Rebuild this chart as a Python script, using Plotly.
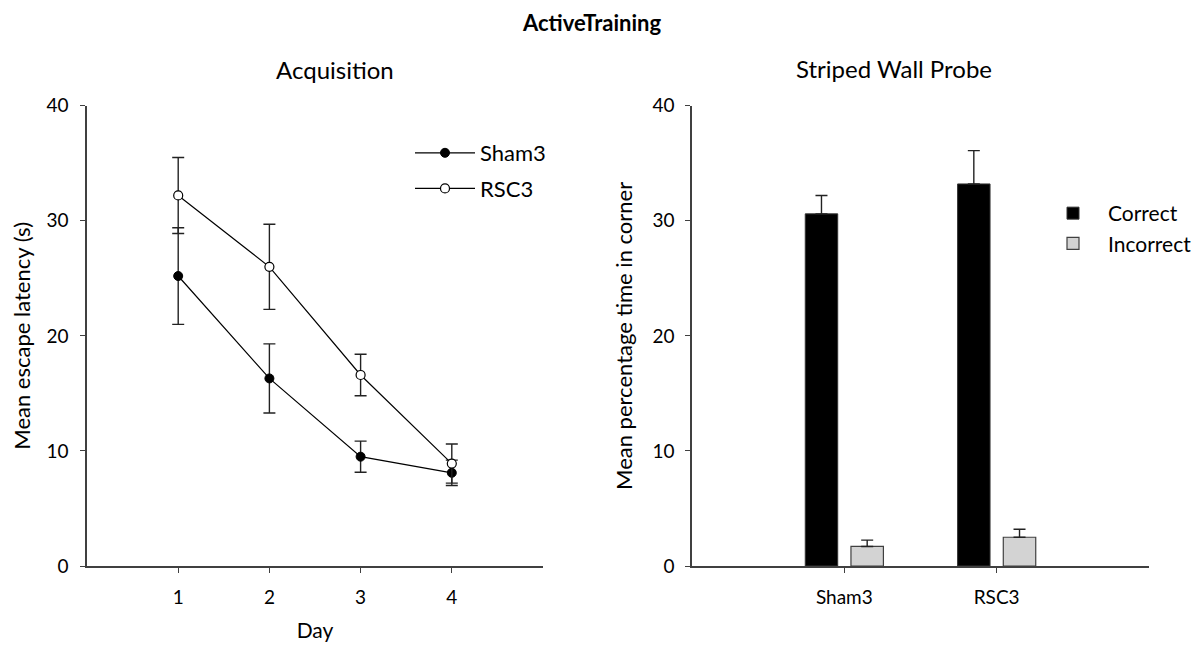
import plotly.graph_objects as go

# ---- data ----
days = [1, 2, 3, 4]
sham3_latency = [25.2, 16.3, 9.5, 8.1]
sham3_err = [4.2, 3.0, 1.35, 1.1]
rsc3_latency = [32.2, 26.0, 16.6, 8.9]
rsc3_err = [3.3, 3.7, 1.8, 1.7]

groups = ["Sham3", "RSC3"]
correct = [30.6, 33.2]
correct_err = [1.6, 2.9]
incorrect = [1.7, 2.5]
incorrect_err = [0.55, 0.7]

y_ticks = [0, 10, 20, 30, 40]

FONT = "Lato, 'Open Sans', sans-serif"
AX = "#404040"

# page body adds an 8px margin; size the figure so it fits the 1200x646 window
W, H, OFF = 1192, 638, 8


def px(p):
    return (p - OFF) / W


def py(p):
    return 1 - (p - OFF) / H


fig = go.Figure()

fig.add_trace(go.Scatter(
    x=days, y=sham3_latency, mode="lines+markers", name="Sham3",
    line=dict(color="black", width=1.2),
    marker=dict(symbol="circle", size=9, color="black", line=dict(color="black", width=1)),
    error_y=dict(type="data", array=sham3_err, color="#222222", thickness=1.4, width=6),
    xaxis="x", yaxis="y", legend="legend", legendgroup="a",
))
fig.add_trace(go.Scatter(
    x=days, y=rsc3_latency, mode="lines+markers", name="RSC3",
    line=dict(color="black", width=1.2),
    marker=dict(symbol="circle", size=9, color="white", line=dict(color="black", width=1.2)),
    error_y=dict(type="data", array=rsc3_err, color="#222222", thickness=1.4, width=6),
    xaxis="x", yaxis="y", legend="legend", legendgroup="b",
))

fig.add_trace(go.Bar(
    x=groups, y=correct, name="Correct",
    marker=dict(color="black", line=dict(color="#333333", width=1)),
    error_y=dict(type="data", array=correct_err, symmetric=False, arrayminus=[0, 0],
                 color="#222222", thickness=1.4, width=6),
    xaxis="x2", yaxis="y2", legend="legend2", legendgroup="c",
))
fig.add_trace(go.Bar(
    x=groups, y=incorrect, name="Incorrect",
    marker=dict(color="#d3d3d3", line=dict(color="#404040", width=1.2)),
    error_y=dict(type="data", array=incorrect_err, symmetric=False, arrayminus=[0, 0],
                 color="#222222", thickness=1.4, width=6),
    xaxis="x2", yaxis="y2", legend="legend2", legendgroup="d",
))

axis_common = dict(showline=True, linecolor=AX, linewidth=1.5, showgrid=False,
                   zeroline=False, ticks="outside", ticklen=5, tickcolor=AX,
                   tickwidth=1.3, automargin=False)

YDOM = [py(566), py(105.7)]

fig.update_layout(
    width=W, height=H,
    paper_bgcolor="white", plot_bgcolor="white",
    font=dict(family=FONT, color="black", size=19),
    margin=dict(l=0, r=0, t=0, b=0),
    barmode="group", bargap=0.4, bargroupgap=0.29,
    showlegend=True,
    xaxis=dict(domain=[px(87), px(543)], range=[0, 5], tickvals=days,
               ticktext=[str(d) for d in days], tickfont=dict(size=19),
               ticklabelstandoff=8,
               title=dict(text="Day", font=dict(size=21), standoff=17),
               anchor="y", **axis_common),
    yaxis=dict(domain=YDOM, range=[0, 40], tickvals=y_ticks,
               tickfont=dict(size=19), ticklabelstandoff=8,
               title=dict(text="Mean escape latency (s)", font=dict(size=22), standoff=19),
               anchor="x", **axis_common),
    xaxis2=dict(domain=[px(692), px(1149)], range=[-1, 2], tickfont=dict(size=19),
                ticklabelstandoff=8,
                anchor="y2", **axis_common),
    yaxis2=dict(domain=YDOM, range=[0, 40], tickvals=y_ticks,
                tickfont=dict(size=19), ticklabelstandoff=7,
                title=dict(text="Mean percentage time in corner", font=dict(size=22), standoff=14),
                anchor="x2", **axis_common),
    legend=dict(x=px(410), y=py(132), xanchor="left", yanchor="top",
                font=dict(size=22), bgcolor="rgba(0,0,0,0)",
                itemwidth=60, tracegroupgap=4),
    legend2=dict(x=px(1038), y=py(193), xanchor="left", yanchor="top",
                 font=dict(size=21), bgcolor="rgba(0,0,0,0)",
                 itemwidth=60, tracegroupgap=0),
    annotations=[
        dict(text="<b>ActiveTraining</b>", x=px(591), y=py(22), xref="paper", yref="paper",
             showarrow=False, font=dict(size=22), xanchor="center", yanchor="middle"),
        dict(text="Acquisition", x=px(335), y=py(69), xref="paper", yref="paper",
             showarrow=False, font=dict(size=24), xanchor="center", yanchor="middle"),
        dict(text="Striped Wall Probe", x=px(894), y=py(68), xref="paper", yref="paper",
             showarrow=False, font=dict(size=24), xanchor="center", yanchor="middle"),
    ],
)

fig.write_html("out.html")
